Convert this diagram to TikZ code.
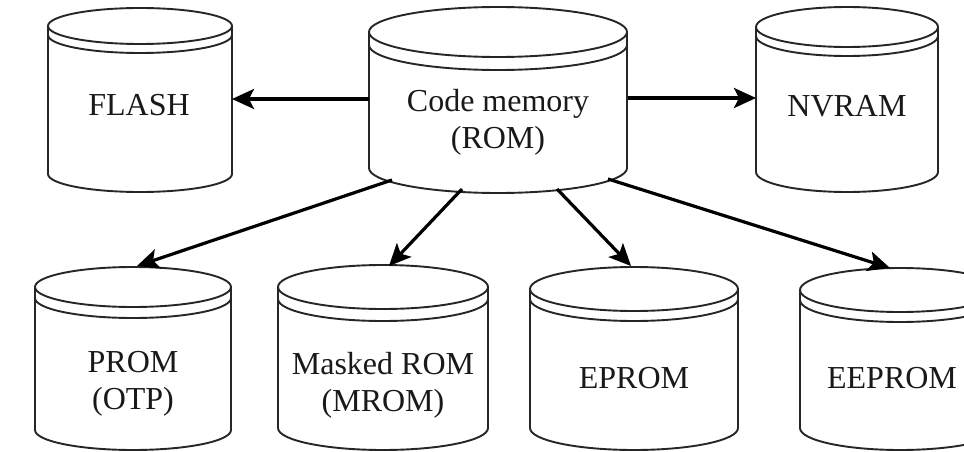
\documentclass[tikz,border=0pt]{standalone}
\usepackage{fontspec}
\setmainfont{Liberation Serif}
\usetikzlibrary{arrows.meta}
\tikzset{
  drumline/.style={line width=1.9pt, draw=black!85},
  conn/.style={line width=3.2pt, draw=black, -{Stealth[length=22pt,width=20pt,inset=5pt]}},
  lbl/.style={font=\fontsize{32}{37}\selectfont, align=center, inner sep=0pt, text=black!90},
}
% drum outline: cx, ytop-centre, a, b, y-bottom-centre, d
\newcommand\mydrum[6]{%
  \fill[white] (#1-#3,-#2) -- (#1-#3,-#5) arc[start angle=180,end angle=360,x radius=#3pt,y radius=#4pt] -- (#1+#3,-#2) -- cycle;
  \draw[drumline] (#1-#3,-#2) -- (#1-#3,-#5) arc[start angle=180,end angle=360,x radius=#3pt,y radius=#4pt] -- (#1+#3,-#2);
  \draw[drumline,fill=white] (#1,-#2) ellipse[x radius=#3pt,y radius=#4pt];
  \draw[drumline] (#1-#3,-#2-#6) arc[start angle=180,end angle=360,x radius=#3pt,y radius=#4pt];
}
\begin{document}
\begin{tikzpicture}[x=1pt,y=1pt]
\useasboundingbox (0,0) rectangle (964,-452);
\clip (0,0) rectangle (964,-452);
\fill[white] (0,0) rectangle (964,-452);

% drums
\mydrum{140}{26}{92}{18}{174}{9}
\mydrum{498}{32}{129}{25}{168}{13}
\mydrum{847}{27}{91}{20}{172}{9}
\mydrum{133}{287}{98}{20}{430}{11}
\mydrum{383}{287}{105}{22}{428}{12}
\mydrum{634}{289}{104}{22}{428}{10}
\mydrum{900}{290}{100}{22}{428}{10}

% labels
\node[lbl] (flash) at (139,-105) {FLASH};
\node[lbl] (code) at (498,-122) {Code memory\\(ROM)};
\node[lbl] (nvram) at (847,-106) {NVRAM};
\node[lbl] (prom) at (133,-384) {PROM\\(OTP)};
\node[lbl] (mrom) at (383,-385) {Masked ROM\\(MROM)};
\node[lbl] (eprom) at (634,-378) {EPROM};
\node[lbl] (eeprom) at (892,-378) {EEPROM};

% connector anchors on the drum outlines
\coordinate (flash-e) at (232,-99);
\coordinate (code-w) at (369,-99);
\coordinate (code-e) at (628,-98);
\coordinate (nvram-w) at (756,-98);
\coordinate (code-s1) at (392,-180);
\coordinate (code-s2) at (462,-189);
\coordinate (code-s3) at (557,-189);
\coordinate (code-s4) at (608,-179);
\coordinate (prom-n) at (137,-266);
\coordinate (mrom-n) at (389,-266);
\coordinate (eprom-n) at (631,-266);
\coordinate (eeprom-n) at (890,-268);

% connectors
\draw[conn] (code-w) -- (flash-e);
\draw[conn] (code-e) -- (nvram-w);
\draw[conn] (code-s1) -- (prom-n);
\draw[conn] (code-s2) -- (mrom-n);
\draw[conn] (code-s3) -- (eprom-n);
\draw[conn] (code-s4) -- (eeprom-n);
\end{tikzpicture}
\end{document}
